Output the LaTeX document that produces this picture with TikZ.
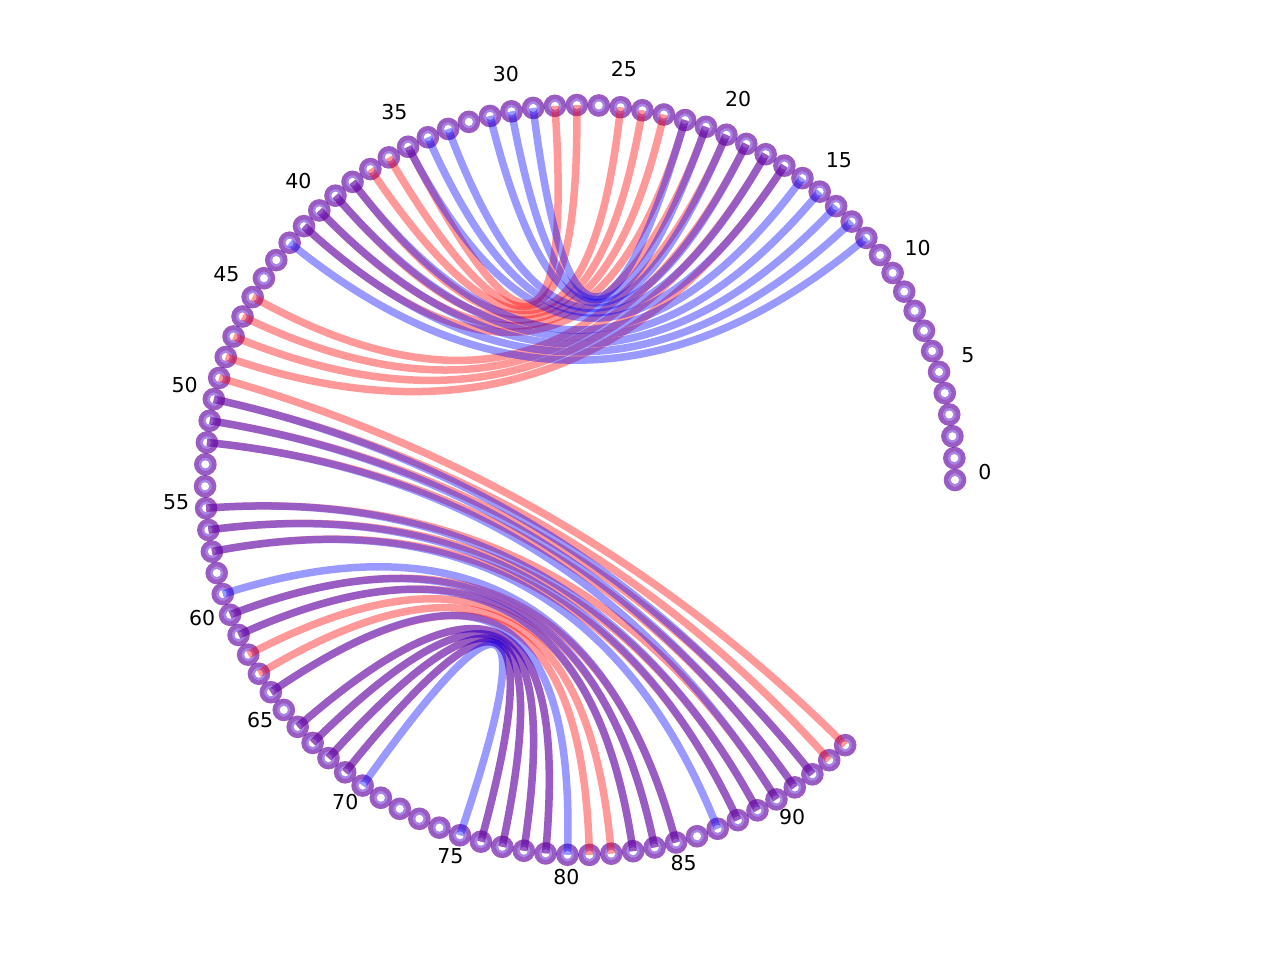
\documentclass[tikz,border=0pt]{standalone}
\usepackage{fontspec}
\setmainfont{DejaVu Sans}
\usetikzlibrary{calc}
\definecolor{facec}{RGB}{168,132,230}
\begin{document}
\begin{tikzpicture}[x=1pt,y=-1pt,
  base/.style={circle, inner sep=0pt, minimum size=13.5pt, fill=facec},
  redring/.style={draw=red, draw opacity=0.4, line width=4.5pt},
  bluering/.style={draw=blue, draw opacity=0.4, line width=4.5pt},
  lab/.style={font=\fontsize{20.5}{21}\selectfont, inner sep=0pt},
  redarc/.style={draw=red, opacity=0.4, line width=7.5pt},
  bluearc/.style={draw=blue, opacity=0.4, line width=7.5pt}
]
\useasboundingbox (0,0) rectangle (1280,960);
\coordinate (O) at (580,480);
\foreach \k in {0,...,94}{
  \pgfmathsetmacro{\a}{\k*3.3510638}
  \node[base] (n\k) at ({580+375*cos(\a)},{480-375*sin(\a)}) {};
  \fill[white] (n\k.center) circle (4pt);
}
\foreach \k in {0,...,94}{
  \draw[redring] (n\k.center) circle (9pt);
}
\foreach \k in {0,...,94}{
  \draw[bluering] (n\k.center) circle (9pt);
}
\foreach \k in {0,5,...,90}{
  \pgfmathsetmacro{\a}{\k*3.3510638}
  \node[lab] (l\k) at ({580+405*cos(\a)},{472-405*sin(\a)}) {\k};
}
\foreach \i/\j in {17/48,18/47,19/46,20/45,21/41,22/40,23/39,24/38,25/37,27/36,28/35,
  49/94,50/93,51/92,52/91,55/90,56/89,57/88,60/85,61/84,62/83,63/82,64/81,66/79,67/78,68/77,69/76}{
  \draw[redarc] (n\i.center) .. controls ($(n\i.center)!0.6667!(O)$) and ($(n\j.center)!0.6667!(O)$) .. (n\j.center);
}
\foreach \i/\j in {12/42,13/41,14/40,15/39,16/38,17/35,18/34,19/33,20/31,21/30,22/29,
  50/92,51/91,52/90,55/89,56/88,57/87,59/85,60/84,61/83,64/80,66/79,67/78,68/77,69/76,70/75}{
  \draw[bluearc] (n\i.center) .. controls ($(n\i.center)!0.6667!(O)$) and ($(n\j.center)!0.6667!(O)$) .. (n\j.center);
}
\end{tikzpicture}
\end{document}
